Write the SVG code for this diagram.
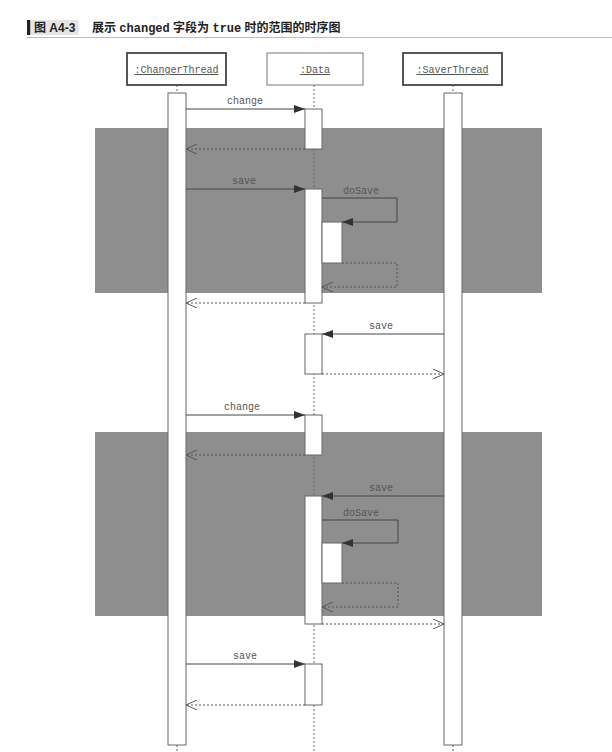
<svg xmlns="http://www.w3.org/2000/svg" width="612" height="752" viewBox="0 0 612 752">
<style>
.title{font-family:"Liberation Sans","Noto Sans CJK SC",sans-serif;font-size:12px;font-weight:bold;fill:#222}
.mono{font-family:"Liberation Mono","Noto Sans CJK SC",monospace}
.hdr{font-family:"Liberation Mono",monospace;font-size:10px;fill:#555;text-decoration:underline}
.lbl{font-family:"Liberation Mono",monospace;font-size:10px;fill:#555}
.life{stroke:#666;stroke-width:1;stroke-dasharray:2,2;fill:none}
.act{fill:#fff;stroke:#666;stroke-width:1}
.call{stroke:#444;stroke-width:1;fill:none;marker-end:url(#filled)}
.ret{stroke:#555;stroke-width:1;fill:none;stroke-dasharray:2,2;marker-end:url(#open)}
.shade{fill:#8e8e8e}
</style>
<defs>
<marker id="filled" markerUnits="userSpaceOnUse" markerWidth="12" markerHeight="8" refX="11" refY="4" orient="auto">
<path d="M0,0 L11,4 L0,8 z" fill="#333"/>
</marker>
<marker id="open" markerUnits="userSpaceOnUse" markerWidth="12" markerHeight="10" refX="11" refY="5" orient="auto">
<path d="M0,0 L11,5 L0,10" fill="none" stroke="#555" stroke-width="1"/>
</marker>
</defs>
<rect width="612" height="752" fill="#fff"/>
<g id="title">
<rect x="27" y="20" width="3.5" height="15" fill="#222"/>
<rect x="30.5" y="20" width="48" height="15" fill="#e4e4e4"/>
<text x="34" y="32" class="title">图 A4-3</text>
<text x="92" y="32" class="title">展示 <tspan class="mono">changed</tspan> 字段为 <tspan class="mono">true</tspan> 时的范围的时序图</text>
<line x1="27" y1="37.5" x2="612" y2="37.5" stroke="#bbb" stroke-width="1"/>
</g>
<g id="shading">
<rect class="shade" x="95" y="128" width="447" height="165"/>
<rect class="shade" x="95" y="432" width="447" height="184"/>
</g>
<g id="lifelines">
<line class="life" x1="177" y1="85" x2="177" y2="752"/>
<line class="life" x1="314" y1="85" x2="314" y2="752"/>
<line class="life" x1="453" y1="85" x2="453" y2="752"/>
</g>
<g id="ChangerThread">
<rect x="127" y="53" width="99" height="32" fill="#fff" stroke="#444" stroke-width="1.8"/>
<text x="176.5" y="73" class="hdr" text-anchor="middle">:ChangerThread</text>
<rect class="act" x="168" y="93" width="18" height="652"/>
</g>
<g id="Data">
<rect x="267" y="53" width="96" height="32" fill="#fff" stroke="#777" stroke-width="1"/>
<text x="315" y="73" class="hdr" text-anchor="middle">:Data</text>
<rect class="act" x="305" y="109" width="17" height="40"/>
<rect class="act" x="305" y="189" width="17" height="114"/>
<rect class="act" x="322" y="222" width="20" height="41"/>
<rect class="act" x="305" y="334" width="17" height="40"/>
<rect class="act" x="305" y="415" width="17" height="40"/>
<rect class="act" x="305" y="496" width="17" height="128"/>
<rect class="act" x="322" y="543" width="20" height="40"/>
<rect class="act" x="305" y="664" width="17" height="41"/>
</g>
<g id="SaverThread">
<rect x="403" y="53" width="99" height="32" fill="#fff" stroke="#444" stroke-width="1.8"/>
<text x="452.5" y="73" class="hdr" text-anchor="middle">:SaverThread</text>
<rect class="act" x="444" y="93" width="18" height="652"/>
</g>
<g id="connectors">
<line class="call" x1="186" y1="109" x2="305" y2="109"/>
<text class="lbl" x="245" y="104" text-anchor="middle">change</text>
<line class="ret" x1="305" y1="149" x2="186" y2="149"/>
<line class="call" x1="186" y1="189" x2="305" y2="189"/>
<text class="lbl" x="244" y="184" text-anchor="middle">save</text>
<polyline class="call" points="322,198 397,198 397,222 342,222"/>
<text class="lbl" x="343" y="194">doSave</text>
<polyline class="ret" points="342,263 397,263 397,287 322,287"/>
<line class="ret" x1="305" y1="303" x2="186" y2="303"/>
<line class="call" x1="444" y1="334" x2="322" y2="334"/>
<text class="lbl" x="381" y="329" text-anchor="middle">save</text>
<line class="ret" x1="322" y1="374" x2="444" y2="374"/>
<line class="call" x1="186" y1="415" x2="305" y2="415"/>
<text class="lbl" x="242" y="410" text-anchor="middle">change</text>
<line class="ret" x1="305" y1="455" x2="186" y2="455"/>
<line class="call" x1="444" y1="496" x2="322" y2="496"/>
<text class="lbl" x="381" y="491" text-anchor="middle">save</text>
<polyline class="call" points="322,520 398,520 398,543 342,543"/>
<text class="lbl" x="343" y="516">doSave</text>
<polyline class="ret" points="342,583 398,583 398,607 322,607"/>
<line class="ret" x1="322" y1="624" x2="444" y2="624"/>
<line class="call" x1="186" y1="664" x2="305" y2="664"/>
<text class="lbl" x="245" y="659" text-anchor="middle">save</text>
<line class="ret" x1="305" y1="705" x2="186" y2="705"/>
</g>
</svg>
